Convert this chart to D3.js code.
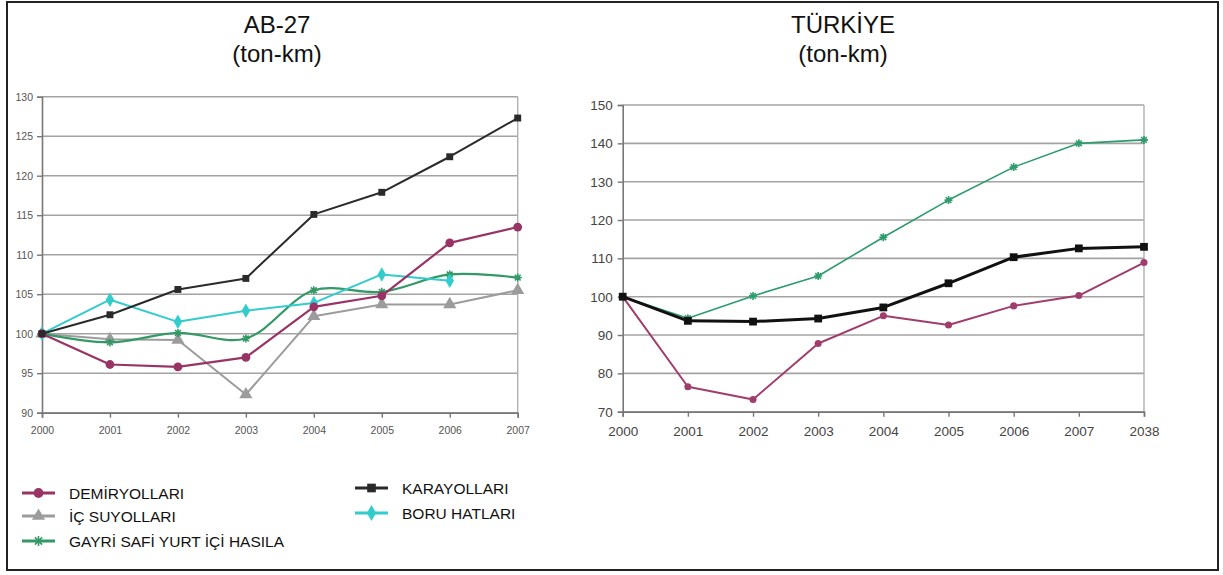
<!DOCTYPE html>
<html>
<head>
<meta charset="utf-8">
<script src="https://cdn.jsdelivr.net/npm/d3@7"></script>
<style>
  html, body { margin: 0; padding: 0; background: #fff; }
  svg { display: block; font-family: Arial, "Liberation Sans", sans-serif; }
</style>
</head>
<body>
<svg id="chart" width="1223" height="575"></svg>
<script>
// AB-27 index series (2000 = 100)
const abYears = ["2000", "2001", "2002", "2003", "2004", "2005", "2006", "2007"];
const abTicks = [90, 95, 100, 105, 110, 115, 120, 125, 130];
const abDemiryollari = [100, 96.1, 95.8, 97.0, 103.4, 104.8, 111.5, 113.5];
const abKarayollari  = [100, 102.4, 105.6, 107.0, 115.1, 117.9, 122.4, 127.3];
const abIcSuyollari  = [100, 99.3, 99.2, 92.3, 102.2, 103.7, 103.7, 105.5];
const abBoruHatlari  = [100, 104.3, 101.5, 102.9, 103.9, 107.5, 106.7, null];
const abGsyih        = [100, 98.9, 100.1, 99.4, 105.5, 105.3, 107.5, 107.1];

// Türkiye index series (2000 = 100)
const trYears = ["2000", "2001", "2002", "2003", "2004", "2005", "2006", "2007", "2038"];
const trTicks = [70, 80, 90, 100, 110, 120, 130, 140, 150];
const trDemiryollari = [100, 76.5, 73.2, 87.8, 95.0, 92.6, 97.6, 100.3, 108.9];
const trKarayollari  = [100, 93.7, 93.5, 94.3, 97.2, 103.5, 110.3, 112.6, 113.0];
const trGsyih        = [100, 94.4, 100.2, 105.4, 115.5, 125.2, 133.8, 140.0, 140.9];

// Legend entries
const legendNames = ["DEMİRYOLLARI", "İÇ SUYOLLARI", "GAYRİ SAFİ YURT İÇİ HASILA", "KARAYOLLARI", "BORU HATLARI"];

const svg = d3.select("#chart");

// outer frame
svg.append("rect")
  .attr("x", 7).attr("y", 2).attr("width", 1211).attr("height", 568)
  .attr("fill", "#fff").attr("stroke", "#222").attr("stroke-width", 2);

// marker shapes
function asteriskPath(s) {
  const r = s, d = s * 0.72;
  return `M${-r},0L${r},0M0,${-r}L0,${r}M${-d},${-d}L${d},${d}M${-d},${d}L${d},${-d}`;
}
function drawMarker(g, kind, x, y, color, size) {
  if (kind === "asterisk") {
    g.append("path").attr("d", asteriskPath(size))
      .attr("transform", `translate(${x},${y})`)
      .attr("fill", "none").attr("stroke", color).attr("stroke-width", 1.6);
    return;
  }
  const types = {
    circle: d3.symbolCircle, square: d3.symbolSquare,
    triangle: d3.symbolTriangle, diamond: d3.symbolDiamond
  };
  g.append("path")
    .attr("d", d3.symbol().type(types[kind]).size(size * size * 3)())
    .attr("transform", `translate(${x},${y})`)
    .attr("fill", color);
}

function drawPanel(cfg) {
  const g = svg.append("g");
  const x = d3.scalePoint().domain(cfg.years).range(cfg.xRange);
  const y = d3.scaleLinear().domain(cfg.yDomain).range(cfg.yRange);
  const [x0, x1] = cfg.xRange;

  // horizontal gridlines
  g.selectAll("line.grid").data(cfg.ticks).join("line")
    .attr("x1", x0).attr("x2", x1)
    .attr("y1", d => y(d)).attr("y2", d => y(d))
    .attr("stroke", "#a3a3a3").attr("stroke-width", 1.6);

  // right border of plot
  g.append("line")
    .attr("x1", x1).attr("x2", x1)
    .attr("y1", y(cfg.yDomain[1])).attr("y2", y(cfg.yDomain[0]))
    .attr("stroke", "#b0b0b0").attr("stroke-width", 1.4);

  // y axis
  const ya = g.append("g").attr("transform", `translate(${x0},0)`)
    .call(d3.axisLeft(y).tickValues(cfg.ticks).tickSize(5).tickPadding(cfg.yPad));
  ya.select(".domain").attr("stroke", "#777").attr("stroke-width", 1.6);
  ya.selectAll(".tick line").attr("stroke", "#777").attr("stroke-width", 1.4);
  ya.selectAll("text").attr("font-size", cfg.fontSize).attr("fill", cfg.labelColor)
    .attr("font-family", "Arial, 'Liberation Sans', sans-serif");

  // x axis
  const xa = g.append("g").attr("transform", `translate(0,${y(cfg.yDomain[0])})`)
    .call(d3.axisBottom(x).tickSize(5).tickPadding(cfg.xPad));
  xa.select(".domain").attr("stroke", "#777").attr("stroke-width", 1.6);
  xa.selectAll(".tick line").attr("stroke", "#777").attr("stroke-width", 1.4);
  xa.selectAll("text").attr("font-size", cfg.fontSize).attr("fill", cfg.labelColor)
    .attr("font-family", "Arial, 'Liberation Sans', sans-serif");

  // series
  cfg.series.forEach(s => {
    const pts = s.values.map((v, i) => [cfg.years[i], v]).filter(p => p[1] !== null);
    const line = d3.line()
      .x(p => x(p[0])).y(p => y(p[1]))
      .curve(s.smooth ? d3.curveCatmullRom.alpha(0.5) : d3.curveLinear);
    g.append("path").datum(pts).attr("d", line)
      .attr("fill", "none").attr("stroke", s.color).attr("stroke-width", s.width)
      .attr("stroke-linejoin", "round");
    pts.forEach(p => drawMarker(g, s.marker, x(p[0]), y(p[1]), s.color, s.msize));
  });

  // titles
  cfg.title.forEach((t, i) => {
    svg.append("text").attr("x", cfg.titleX).attr("y", 33 + i * 29)
      .attr("text-anchor", "middle").attr("font-size", 24).attr("fill", "#111")
      .text(t);
  });
}

const cMaroon = "#993366", cBlack = "#2a2a2a", cGray = "#9c9c9c",
      cGreen = "#339966", cCyan = "#33cccc";

drawPanel({
  years: abYears, ticks: abTicks,
  xRange: [42, 517.7], yDomain: [90, 130], yRange: [412.7, 96.7],
  fontSize: 10.5, labelColor: "#555", yPad: 4, xPad: 9,
  titleX: 277, title: ["AB-27", "(ton-km)"],
  series: [
    { values: abIcSuyollari, color: cGray, width: 2, marker: "triangle", msize: 5 },
    { values: abGsyih, color: cGreen, width: 2.2, marker: "asterisk", msize: 4, smooth: true },
    { values: abBoruHatlari, color: cCyan, width: 2, marker: "diamond", msize: 4.5 },
    { values: abDemiryollari, color: cMaroon, width: 2.2, marker: "circle", msize: 4.5 },
    { values: abKarayollari, color: cBlack, width: 2, marker: "square", msize: 4 }
  ]
});

drawPanel({
  years: trYears, ticks: trTicks,
  xRange: [622.7, 1144], yDomain: [70, 150], yRange: [411.7, 105],
  fontSize: 13.5, labelColor: "#444", yPad: 5, xPad: 10,
  titleX: 843, title: ["TÜRKİYE", "(ton-km)"],
  series: [
    { values: trGsyih, color: "#2e9c6c", width: 1.6, marker: "asterisk", msize: 4 },
    { values: trDemiryollari, color: "#a03d6c", width: 2, marker: "circle", msize: 3.6 },
    { values: trKarayollari, color: "#111", width: 3, marker: "square", msize: 4.5 }
  ]
});

// legend
const legendColors = [cMaroon, cGray, cGreen, cBlack, cCyan];
const legendMarkers = ["circle", "triangle", "asterisk", "square", "diamond"];
const legendPos = [[22, 493], [22, 516], [22, 541], [355, 488], [355, 513]];
const lg = svg.append("g");
legendNames.forEach((name, i) => {
  const [lx, ly] = legendPos[i];
  lg.append("line").attr("x1", lx).attr("x2", lx + 33).attr("y1", ly).attr("y2", ly)
    .attr("stroke", legendColors[i]).attr("stroke-width", 3);
  drawMarker(lg, legendMarkers[i], lx + 16.5, ly, legendColors[i], 5);
  lg.append("text").attr("x", lx + 47).attr("y", ly + 5.5)
    .attr("font-size", 15.5).attr("fill", "#111").text(name);
});
</script>
</body>
</html>
